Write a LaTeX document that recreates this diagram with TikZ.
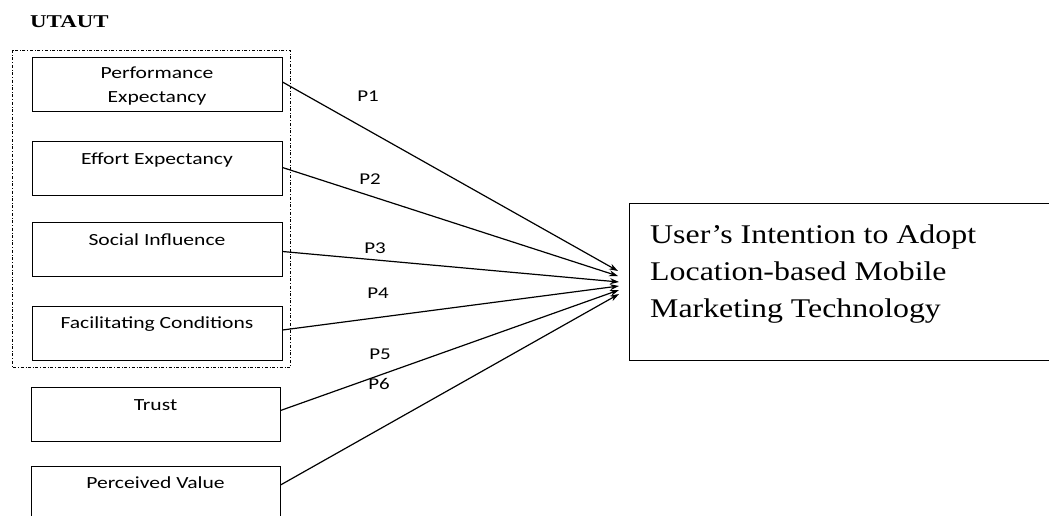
\documentclass[tikz,border=0pt]{standalone}
\usepackage{fontspec}
\setmainfont{Liberation Serif}
\newfontfamily\boxfont{Carlito}[FakeStretch=1.27]
\newfontfamily\goalfont{Liberation Serif}[FakeStretch=1.18]
\newfontfamily\headfont{Liberation Serif}[FakeStretch=1.27]
\usetikzlibrary{arrows.meta}
\tikzset{>={Stealth[length=9pt,width=6pt]},
  factor/.style={draw,line width=1pt,minimum width=250pt,minimum height=54pt,inner sep=0pt},
  ftext/.style={anchor=base,inner sep=0pt,align=center,font=\boxfont\fontsize{17}{24}\selectfont},
  plabel/.style={font=\boxfont\fontsize{16.5}{18}\selectfont},
  link/.style={line width=1.2pt,->}}

\begin{document}
\begin{tikzpicture}[x=1pt,y=-1pt]
\useasboundingbox (0,0) rectangle (1049,515);
\clip (0,0) rectangle (1049,515);
\fill[white] (0,0) rectangle (1049,515);
\node[anchor=base west,inner sep=0pt,font=\headfont\bfseries\fontsize{18}{20}\selectfont] (utaut) at (30,27) {UTAUT};
\draw[dash dot,line width=.8pt] (12,50) rectangle (290,367);
% factors
\node[factor] (pe) at (157,84) {};\node[ftext] at ([yshift=-46pt]pe.north) {Performance\\Expectancy};
\node[factor] (ee) at (157,168.5) {};\node[ftext] at ([yshift=-23pt]ee.north) {Effort Expectancy};
\node[factor] (si) at (157,249.5) {};\node[ftext] at ([yshift=-23pt]si.north) {Social Influence};
\node[factor] (fc) at (157,333) {};\node[ftext] at ([yshift=-23pt]fc.north) {Facilitating Conditions};
\node[factor,minimum width=249pt] (tr) at (155.5,414.5) {};\node[ftext] at ([yshift=-23pt]tr.north) {Trust};
\node[factor,minimum width=249pt] (pv) at (155.5,493) {};\node[ftext] at ([yshift=-23pt]pv.north) {Perceived Value};
% outcome
\node[draw,line width=1pt,anchor=north west,minimum width=440pt,minimum height=157pt,inner sep=0pt] (intent) at (629,203) {};
\node[anchor=base west,inner sep=0pt,align=left,font=\goalfont\fontsize{27}{37}\selectfont] (intenttext) at (650,317) {User’s Intention to Adopt\\Location-based Mobile\\Marketing Technology};
\coordinate (e1) at (618,271);\coordinate (e2) at (618,276);\coordinate (e3) at (619,282);
\coordinate (e4) at (619,286);\coordinate (e5) at (619,290);\coordinate (e6) at (619,294);
\draw[link] ([yshift=2pt]pe.east)--(e1);
\draw[link] ([yshift=1pt]ee.east)--(e2);
\draw[link] ([yshift=-2pt]si.east)--(e3);
\draw[link] ([yshift=3pt]fc.east)--(e4);
\draw[link] ([yshift=4pt]tr.east)--(e5);
\draw[link] ([yshift=8pt]pv.east)--(e6);
% labels
\node[plabel] (p1) at (368,96) {P1};
\node[plabel] (p2) at (370,179) {P2};
\node[plabel] (p3) at (375,248) {P3};
\node[plabel] (p4) at (378,293) {P4};
\node[plabel] (p5) at (380,354) {P5};
\node[plabel] (p6) at (379,384) {P6};
\end{tikzpicture}
\end{document}
